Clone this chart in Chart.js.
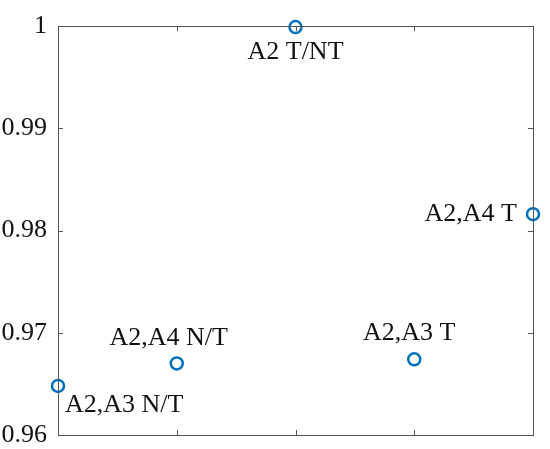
<!DOCTYPE html>
<html>
<head>
<meta charset="utf-8">
<script src="https://cdn.jsdelivr.net/npm/chart.js@4"></script>
<style>
  html, body { margin: 0; padding: 0; background: #fff; }
  #wrap { width: 550px; height: 449px; }
</style>
</head>
<body>
<div id="wrap"><canvas id="myChart" width="550" height="449"></canvas></div>
<script>
// data
var xValues = [1, 2, 3, 4, 5];
var yValues = [0.9648, 0.9670, 0.9999, 0.9674, 0.9816];
var pointLabels = ["A2,A3 N/T", "A2,A4 N/T", "A2 T/NT", "A2,A3 T", "A2,A4 T"];
var yTicks = [0.96, 0.97, 0.98, 0.99, 1];

// where each label sits relative to its point (style, not data)
var labelPlace = [
  { dx: 7, dy: 19, align: 'left' },
  { dx: -8, dy: -25, align: 'center' },
  { dx: 0, dy: 25, align: 'center' },
  { dx: -5, dy: -26, align: 'center' },
  { dx: -16, dy: 0, align: 'right' }
];

var axisColor = '#555555';
var fontFamily = '"Liberation Serif", "Times New Roman", serif';

// box with inward ticks on all four sides, plus point labels
var boxPlugin = {
  id: 'box',
  afterDraw: function (chart) {
    var ctx = chart.ctx;
    var a = chart.chartArea;
    var xs = chart.scales.x, ys = chart.scales.y;
    ctx.save();
    ctx.strokeStyle = axisColor;
    ctx.lineWidth = 1;
    ctx.strokeRect(a.left + 0.5, a.top + 0.5, a.right - a.left, a.bottom - a.top);
    ctx.beginPath();
    xValues.forEach(function (v) {
      var px = Math.round(xs.getPixelForValue(v)) + 0.5;
      ctx.moveTo(px, a.bottom); ctx.lineTo(px, a.bottom - 5);
      ctx.moveTo(px, a.top); ctx.lineTo(px, a.top + 5);
    });
    yTicks.forEach(function (v) {
      var py = Math.round(ys.getPixelForValue(v)) + 0.5;
      ctx.moveTo(a.left, py); ctx.lineTo(a.left + 5, py);
      ctx.moveTo(a.right, py); ctx.lineTo(a.right - 5, py);
    });
    ctx.stroke();

    ctx.fillStyle = '#111';
    ctx.font = '26px ' + fontFamily;
    ctx.textBaseline = 'middle';
    var meta = chart.getDatasetMeta(0);
    meta.data.forEach(function (pt, i) {
      var p = labelPlace[i];
      ctx.textAlign = p.align;
      ctx.fillText(pointLabels[i], pt.x + p.dx, pt.y + p.dy);
    });
    ctx.restore();
  }
};

var ctx = document.getElementById('myChart').getContext('2d');
var chart = new Chart(ctx, {
  type: 'scatter',
  data: {
    datasets: [{
      data: xValues.map(function (x, i) { return { x: x, y: yValues[i] }; }),
      borderColor: '#0072BD',
      backgroundColor: 'rgba(0,0,0,0)',
      pointRadius: 6,
      pointHoverRadius: 6,
      borderWidth: 2.5,
      clip: false
    }]
  },
  options: {
    responsive: false,
    animation: false,
    events: [],
    layout: { padding: { top: 26, right: 17, left: 0, bottom: 0 } },
    plugins: { legend: { display: false }, tooltip: { enabled: false } },
    scales: {
      x: {
        type: 'linear',
        min: 1, max: 5,
        grid: { display: false },
        border: { display: false },
        ticks: { display: false, stepSize: 1 },
        afterFit: function (s) { s.height = 14; s.paddingLeft = 0; s.paddingRight = 0; }
      },
      y: {
        min: 0.96, max: 1,
        afterBuildTicks: function (s) { s.ticks = yTicks.map(function (v) { return { value: v }; }); },
        grid: { display: false },
        border: { display: false },
        ticks: {
          color: '#111',
          padding: 3,
          font: { family: fontFamily, size: 26 },
          callback: function (v) { return v === 1 ? '1' : v.toFixed(2); }
        },
        afterFit: function (s) { s.width = 58; s.paddingTop = 0; s.paddingBottom = 0; }
      }
    }
  },
  plugins: [boxPlugin]
});
</script>
</body>
</html>
